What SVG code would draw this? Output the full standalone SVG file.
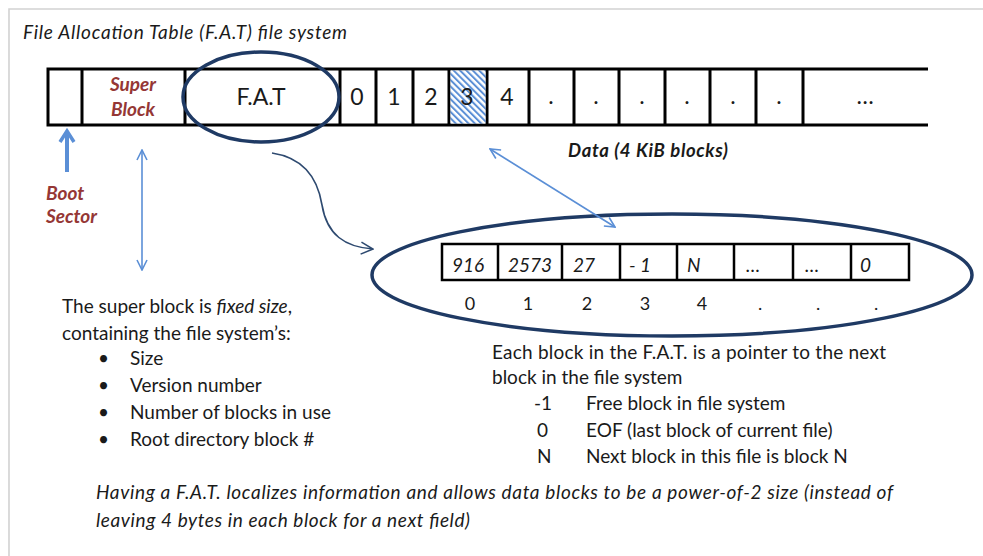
<svg xmlns="http://www.w3.org/2000/svg" width="983" height="556" viewBox="0 0 983 556">
<style>
  text { font-family: Lato, "Open Sans", "Liberation Sans", sans-serif; fill: #1a1a1a; }
  .body { font-size: 19px; }
  .red { fill: #953735; font-weight: bold; font-style: italic; font-size: 19px; }
  .cellnum { font-size: 23px; text-anchor: middle; }
  .tbl { font-size: 19px; font-style: italic; }
  .idx { font-size: 18px; text-anchor: middle; }
  .strip { stroke: #000; stroke-width: 3; fill: none; }
  .tline { stroke: #000; stroke-width: 2.5; fill: none; }
  .navy { stroke: #1f3a64; stroke-width: 3.5; fill: none; }
  .blue { stroke: #5b8fd6; stroke-width: 1.6; fill: none; }
</style>
<defs>
  <pattern id="hatch" patternUnits="userSpaceOnUse" width="4.5" height="4.5" patternTransform="rotate(-45)">
    <rect width="4.5" height="4.5" fill="#ffffff"/>
    <rect width="2" height="4.5" fill="#5b8fd6"/>
  </pattern>
  <marker id="openBlue" viewBox="0 0 12 12" refX="11" refY="6" markerWidth="12" markerHeight="12" markerUnits="userSpaceOnUse" orient="auto-start-reverse">
    <path d="M1,1 L11,6 L1,11" fill="none" stroke="#5b8fd6" stroke-width="1.6"/>
  </marker>
  <marker id="openNavy" viewBox="0 0 14 14" refX="13" refY="7" markerWidth="14" markerHeight="14" markerUnits="userSpaceOnUse" orient="auto">
    <path d="M1,1 L13,7 L1,13" fill="none" stroke="#2e4a70" stroke-width="1.6"/>
  </marker>
</defs>

<rect width="983" height="556" fill="#ffffff"/>
<g id="frame">
  <path d="M983,9 L9,9 L9,556" fill="none" stroke="#d2d2d2" stroke-width="1.6"/>
</g>

<g id="title">
  <text x="23" y="39" font-size="19" font-style="italic" textLength="324" lengthAdjust="spacing">File Allocation Table (F.A.T) file system</text>
</g>

<g id="disk-strip">
  <path class="strip" d="M928,69 L48,69 L48,125 L928,125"/>
  <path class="strip" d="M82,69V125 M185,69V125 M340,69V125 M376,69V125 M413,69V125 M449,69V125 M487,69V125 M529,69V125 M574,69V125 M619,69V125 M665,69V125 M710,69V125 M756,69V125 M803,69V125"/>
</g>

<g id="super-block">
  <text class="red" x="133" y="91" text-anchor="middle">Super</text>
  <text class="red" x="133" y="116" text-anchor="middle">Block</text>
</g>

<g id="fat">
  <text class="cellnum" x="261" y="105">F.A.T</text>
  <ellipse class="navy" cx="261" cy="97" rx="78" ry="45"/>
</g>

<g id="data-blocks">
  <rect x="450.5" y="70.5" width="35" height="53" fill="url(#hatch)"/>
  <text class="cellnum" x="357" y="105">0</text>
  <text class="cellnum" x="394" y="105">1</text>
  <text class="cellnum" x="431" y="105">2</text>
  <text class="cellnum" x="467" y="105">3</text>
  <text class="cellnum" x="507" y="105">4</text>
  <text class="cellnum" x="551" y="104">.</text>
  <text class="cellnum" x="596" y="104">.</text>
  <text class="cellnum" x="642" y="104">.</text>
  <text class="cellnum" x="687" y="104">.</text>
  <text class="cellnum" x="733" y="104">.</text>
  <text class="cellnum" x="779" y="104">.</text>
  <text class="cellnum" x="865" y="104" font-size="18">…</text>
  <text x="568" y="157" font-size="18.5" font-weight="bold" font-style="italic" textLength="160" lengthAdjust="spacing">Data (4 KiB blocks)</text>
</g>

<g id="boot-sector-label">
  <text class="red" x="46" y="200">Boot</text>
  <text class="red" x="46" y="223">Sector</text>
</g>

<g id="fat-table">
  <ellipse class="navy" cx="672" cy="275" rx="300" ry="61"/>
  <rect class="tline" x="442" y="244" width="467" height="36"/>
  <path class="tline" d="M498,244V280 M562,244V280 M620,244V280 M677,244V280 M734,244V280 M793,244V280 M851,244V280"/>
  <text class="tbl" x="452" y="272">916</text>
  <text class="tbl" x="508" y="272">2573</text>
  <text class="tbl" x="573" y="272">27</text>
  <text class="tbl" x="629" y="272">- 1</text>
  <text class="tbl" x="687" y="272">N</text>
  <text class="tbl" x="746" y="272" font-size="14">…</text>
  <text class="tbl" x="805" y="272" font-size="14">…</text>
  <text class="tbl" x="860" y="272">0</text>
  <text class="idx" x="470" y="310">0</text>
  <text class="idx" x="528" y="310">1</text>
  <text class="idx" x="587" y="310">2</text>
  <text class="idx" x="645" y="310">3</text>
  <text class="idx" x="702" y="310">4</text>
  <text class="idx" x="760" y="310">.</text>
  <text class="idx" x="818" y="310">.</text>
  <text class="idx" x="876" y="310">.</text>
</g>

<g id="connectors">
  <path d="M67,172 L67,133" fill="none" stroke="#5b8fd6" stroke-width="4"/>
  <path d="M60,142 L67,131 L74,142" fill="none" stroke="#5b8fd6" stroke-width="3.5" stroke-linejoin="miter"/>
  <path class="blue" d="M142,150 L142,270" marker-start="url(#openBlue)" marker-end="url(#openBlue)"/>
  <path class="blue" d="M490,149 L615,227" marker-start="url(#openBlue)" marker-end="url(#openBlue)"/>
  <path d="M272,153 C305,158 318,180 322,205 C327,235 345,247 373,249" fill="none" stroke="#2e4a70" stroke-width="1.6" marker-end="url(#openNavy)"/>
</g>

<g id="super-block-notes">
  <text class="body" x="62" y="313">The super block is <tspan font-style="italic">fixed size</tspan>,</text>
  <text class="body" x="62" y="340">containing the file system’s:</text>
  <text class="body" x="98" y="365">•</text>
  <text class="body" x="130" y="365">Size</text>
  <text class="body" x="98" y="392">•</text>
  <text class="body" x="130" y="392">Version number</text>
  <text class="body" x="98" y="419">•</text>
  <text class="body" x="130" y="419">Number of blocks in use</text>
  <text class="body" x="98" y="446">•</text>
  <text class="body" x="130" y="446">Root directory block #</text>
</g>

<g id="fat-notes">
  <text class="body" x="492" y="359" textLength="394" lengthAdjust="spacing">Each block in the F.A.T. is a pointer to the next</text>
  <text class="body" x="492" y="384">block in the file system</text>
  <text class="body" x="534" y="410">-1</text>
  <text class="body" x="586" y="410">Free block in file system</text>
  <text class="body" x="537" y="437">0</text>
  <text class="body" x="586" y="437">EOF (last block of current file)</text>
  <text class="body" x="537" y="463">N</text>
  <text class="body" x="586" y="463">Next block in this file is block N</text>
</g>

<g id="summary">
  <text class="body" x="96" y="499" font-style="italic" textLength="797" lengthAdjust="spacing">Having a F.A.T. localizes information and allows data blocks to be a power-of-2 size (instead of</text>
  <text class="body" x="96" y="527" font-style="italic" textLength="374" lengthAdjust="spacing">leaving 4 bytes in each block for a next field)</text>
</g>
</svg>
